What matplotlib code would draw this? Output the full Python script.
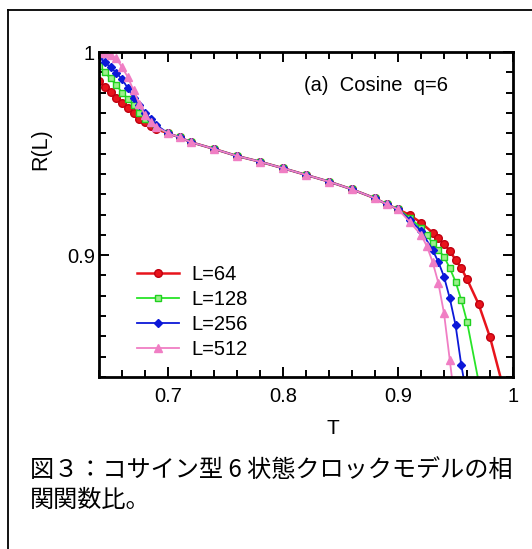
import numpy as np
import matplotlib as mpl
mpl.use('Agg')
import matplotlib.pyplot as plt
from matplotlib.lines import Line2D
from matplotlib.ticker import MultipleLocator, FixedLocator

plt.rcParams['font.family'] = ['Liberation Sans', 'DejaVu Sans']

# temperature grids and R(L) values
T_left = [0.64, 0.645, 0.65, 0.655, 0.66, 0.665, 0.67, 0.675, 0.68, 0.685, 0.69]
T_mid = [0.70, 0.71, 0.72, 0.74, 0.76, 0.78, 0.80, 0.82, 0.84, 0.86, 0.88, 0.89, 0.90]
R_mid = [0.960, 0.958, 0.9556, 0.9523, 0.9488, 0.946, 0.9428, 0.9395, 0.9362,
         0.9324, 0.928, 0.9251, 0.9226]

# L=64
T_64 = T_left + T_mid + [0.91, 0.92, 0.93, 0.935, 0.94, 0.945, 0.95, 0.955, 0.96, 0.97, 0.98, 0.99]
R_64 = [0.9858, 0.9828, 0.9802, 0.9775, 0.975, 0.9725, 0.970, 0.967, 0.9655, 0.9638, 0.962] + R_mid + \
       [0.9198, 0.916, 0.9111, 0.9083, 0.9054, 0.9022, 0.8977, 0.8936, 0.8882, 0.876, 0.8596, 0.838]

# L=128
T_128 = T_left + T_mid + [0.91, 0.92, 0.925, 0.93, 0.935, 0.94, 0.945, 0.95, 0.955, 0.96, 0.97]
R_128 = [0.9931, 0.990, 0.987, 0.9838, 0.980, 0.977, 0.974, 0.970, 0.967, 0.965, 0.963] + R_mid + \
        [0.9185, 0.9135, 0.910, 0.9059, 0.9026, 0.8993, 0.8936, 0.887, 0.878, 0.8673, 0.838]

# L=256
T_256 = T_left + T_mid + [0.91, 0.92, 0.93, 0.935, 0.94, 0.945, 0.95, 0.955, 0.96]
R_256 = [0.9977, 0.995, 0.9925, 0.9898, 0.9866, 0.9823, 0.9775, 0.9739, 0.970, 0.967, 0.964] + R_mid + \
        [0.9175, 0.912, 0.9026, 0.8968, 0.8894, 0.8788, 0.8657, 0.846, 0.83]

# L=512
T_512 = T_left + T_mid + [0.91, 0.92, 0.925, 0.93, 0.935, 0.94, 0.945, 0.95]
R_512 = [1.0, 0.9995, 0.9985, 0.9969, 0.9925, 0.9877, 0.9812, 0.9745, 0.969, 0.9655, 0.9632] + R_mid + \
        [0.9165, 0.910, 0.9045, 0.8968, 0.8865, 0.8714, 0.8485, 0.825]

labels = ['L=64', 'L=128', 'L=256', 'L=512']
caption = ['図３：コサイン型 6 状態クロックモデルの相', '関関数比。']

fig = plt.figure(figsize=(5.32, 5.49), dpi=100)
ax = fig.add_axes([99/532, 1-377/549, 414/532, 325/549])

ax.plot(T_64, R_64, '-o', color='#e8141c', lw=1.8, ms=5.5, mfc='#e8141c', mec='#c00010', label=labels[0])
ax.plot(T_128, R_128, '-s', color='#28e428', lw=1.3, ms=5, mfc='#9cf08c', mec='#20d020', label=labels[1])
ax.plot(T_256, R_256, '-D', color='#0c18d8', lw=1.3, ms=4.5, mfc='#0c18d8', mec='#0c18d8', label=labels[2])
ax.plot(T_512, R_512, '-^', color='#f07ec4', lw=1.3, ms=5.5, mfc='#f07ec4', mec='#f07ec4', label=labels[3])

ax.set_xlim(0.64, 1.0)
ax.set_ylim(0.84, 1.0)
ax.xaxis.set_major_locator(FixedLocator([0.7, 0.8, 0.9, 1.0]))
ax.xaxis.set_minor_locator(MultipleLocator(0.02))
ax.set_xticklabels(['0.7', '0.8', '0.9', '1'])
ax.yaxis.set_major_locator(FixedLocator([0.9, 1.0]))
ax.yaxis.set_minor_locator(MultipleLocator(0.01))
ax.set_yticklabels(['0.9', '1'])
ax.tick_params(which='both', direction='in', top=True, right=True, width=1.4, labelsize=14.5)
ax.tick_params(which='major', length=7)
ax.tick_params(which='minor', length=5)
ax.tick_params(axis='x', pad=7)
ax.tick_params(axis='y', pad=3)
for s in ax.spines.values():
    s.set_linewidth(2)

ax.set_xlabel('T', fontsize=15)
ax.xaxis.set_label_coords(0.565, -0.13)
ax.set_ylabel('R(L)', fontsize=15.5)
ax.yaxis.set_label_coords(-0.115, 0.70)

ax.text(0.495, 0.898, '(a)  Cosine  q=6', transform=ax.transAxes, fontsize=14.5, va='center')

ax.legend(loc='upper left', bbox_to_anchor=(0.092, 0.345), frameon=False, fontsize=14.5,
          handlelength=2.1, handletextpad=0.6, labelspacing=0.3, borderpad=0, borderaxespad=0,
          numpoints=1)

# frame around the figure + caption
fig.add_artist(Line2D([8/532, 8/532], [0, 1-10/549], transform=fig.transFigure, color='black', lw=1.3))
fig.add_artist(Line2D([8/532, 1], [1-10/549, 1-10/549], transform=fig.transFigure, color='black', lw=1.3))
jp = ['Noto Sans CJK JP', 'DejaVu Sans']
fig.text(30/532, 1-471/549, caption[0], fontsize=17.4, family=jp, va='center')
fig.text(30/532, 1-500/549, caption[1], fontsize=17.4, family=jp, va='center')

fig.savefig('out.png', dpi=100)
